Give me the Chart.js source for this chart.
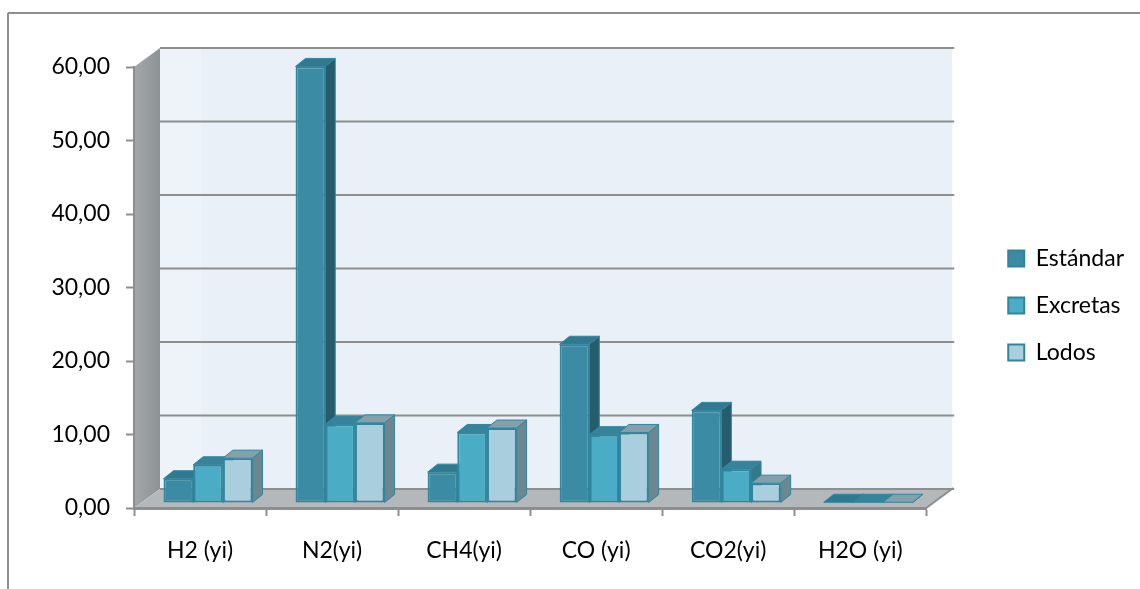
<!DOCTYPE html>
<html>
<head>
<meta charset="utf-8">
<script src="https://cdn.jsdelivr.net/npm/chart.js@4"></script>
<style>
  html, body { margin: 0; padding: 0; background: #fff; overflow: hidden; }
  canvas { display: block; }
</style>
</head>
<body>
<canvas id="chart" width="1140" height="589"></canvas>
<script>
const categories = ['H2 (yi)', 'N2(yi)', 'CH4(yi)', 'CO (yi)', 'CO2(yi)', 'H2O (yi)'];
const estandar = [3.3, 59.4, 4.2, 21.6, 12.6, 0.1];
const excretas = [5.2, 10.7, 9.6, 9.3, 4.6, 0.1];
const lodos = [6.1, 10.9, 10.2, 9.6, 2.7, 0.1];

const FONT = 'Lato, "Open Sans", sans-serif';
const WALL = { dx: 26, dy: -19 };
const BAR_SHIFT = { x: 8, y: -5 };
const BAR_DEPTH = { dx: 10, dy: -8 };

function poly(ctx, pts, fill) {
    ctx.beginPath();
    pts.forEach((p, i) => i ? ctx.lineTo(p[0], p[1]) : ctx.moveTo(p[0], p[1]));
    ctx.closePath();
    ctx.fillStyle = fill;
    ctx.fill();
}

function greyLine(ctx, x1, y1, x2, y2, w) {
    ctx.beginPath();
    ctx.moveTo(x1, y1);
    ctx.lineTo(x2, y2);
    ctx.lineWidth = w;
    ctx.strokeStyle = '#8e8e8e';
    ctx.stroke();
}

// frame, back wall, side wall and floor behind the bars
const walls = {
    id: 'walls',
    beforeDraw(chart) {
        const { ctx, chartArea: a, scales } = chart;
        const { dx, dy } = WALL;
        ctx.save();
        greyLine(ctx, 8, 13, 1140, 13, 2);
        greyLine(ctx, 8, 13, 8, 589, 2);

        poly(ctx, [[a.left + dx, a.top + dy], [a.right + dx, a.top + dy], [a.right + dx, a.bottom + dy], [a.left + dx, a.bottom + dy]], '#e9f0f7');
        poly(ctx, [[a.left + dx, a.top + dy], [a.left + dx + 41, a.top + dy], [a.left + dx + 41, a.bottom + dy], [a.left + dx, a.bottom + dy]], '#edf3f9');

        const side = ctx.createLinearGradient(a.left, 0, a.left + dx, 0);
        side.addColorStop(0, '#a3a7a9');
        side.addColorStop(1, '#8d9294');
        poly(ctx, [[a.left, a.top], [a.left + dx, a.top + dy], [a.left + dx, a.bottom + dy], [a.left, a.bottom]], side);
        poly(ctx, [[a.left, a.bottom], [a.right, a.bottom], [a.right + dx, a.bottom + dy], [a.left + dx, a.bottom + dy]], '#b4b8bb');

        scales.y.ticks.forEach((t, i) => {
            const y = scales.y.getPixelForTick(i) + dy;
            greyLine(ctx, a.left + dx, y, a.right + dx + 2, y, 2);
        });
        greyLine(ctx, a.right, a.bottom, a.right + dx + 1, a.bottom + dy - 1, 2);
        ctx.restore();
    }
};

// top and side faces go down first, so the next bar's front covers them
const bars3d = {
    id: 'bars3d',
    beforeDatasetsDraw(chart) {
        const ctx = chart.ctx;
        const { dx, dy } = BAR_DEPTH;
        ctx.save();
        ctx.translate(BAR_SHIFT.x, BAR_SHIFT.y);
        categories.forEach((c, i) => {
            chart.data.datasets.forEach((ds, d) => {
                const bar = chart.getDatasetMeta(d).data[i];
                const l = bar.x - bar.width / 2, r = bar.x + bar.width / 2;
                const top = bar.y, base = bar.base;
                poly(ctx, [[r, top], [r + dx, top + dy], [r + dx, base + dy], [r, base]], ds.sideColor);
                ctx.strokeStyle = ds.borderColor;
                ctx.lineWidth = 1;
                ctx.stroke();
                poly(ctx, [[l, top], [r, top], [r + dx, top + dy], [l + dx, top + dy]], ds.topColor);
                ctx.stroke();
            });
        });
        ctx.restore();
    },
    beforeDatasetDraw(chart) {
        chart.ctx.save();
        chart.ctx.translate(BAR_SHIFT.x, BAR_SHIFT.y);
    },
    afterDatasetDraw(chart) {
        chart.ctx.restore();
    }
};

new Chart(document.getElementById('chart').getContext('2d'), {
    type: 'bar',
    data: {
        labels: categories,
        datasets: [
            { label: 'Estándar', data: estandar, backgroundColor: '#3b8ba5', borderColor: '#31859c', topColor: '#2f7a90', sideColor: '#255d6d' },
            { label: 'Excretas', data: excretas, backgroundColor: '#4bacc6', borderColor: '#31859c', topColor: '#35849c', sideColor: '#33798d' },
            { label: 'Lodos', data: lodos, backgroundColor: '#a9cfdf', borderColor: '#31859c', topColor: '#84a1ab', sideColor: '#6c8792' }
        ]
    },
    options: {
        responsive: false,
        animation: false,
        layout: { padding: { top: 43, bottom: 21, left: 0, right: 6 } },
        datasets: { bar: { categoryPercentage: 0.674, barPercentage: 1, borderWidth: 2, borderSkipped: false } },
        plugins: {
            title: { display: false },
            tooltip: { enabled: false },
            legend: {
                position: 'right',
                labels: { font: { family: FONT, size: 23 }, color: '#000', boxWidth: 16, boxHeight: 16, padding: 24 }
            }
        },
        scales: {
            x: {
                grid: { drawOnChartArea: false, tickLength: 8, tickColor: '#8e8e8e', tickWidth: 2 },
                border: { color: '#8e8e8e', width: 3 },
                ticks: { font: { family: FONT, size: 23 }, color: '#000', padding: 21, maxRotation: 0 },
                afterFit(axis) { axis.height = 60; }
            },
            y: {
                min: 0,
                max: 60,
                grid: { drawOnChartArea: false, tickLength: 8, tickColor: '#8e8e8e', tickWidth: 2 },
                border: { color: '#8e8e8e', width: 2 },
                ticks: {
                    stepSize: 10,
                    font: { family: FONT, size: 23 },
                    color: '#000',
                    padding: 16,
                    callback: v => v.toFixed(2).replace('.', ',')
                },
                afterFit(axis) { axis.width = 134; }
            },
            spacerTop: {
                type: 'linear',
                axis: 'x',
                position: 'top',
                display: true,
                grid: { display: false },
                border: { display: false },
                ticks: { display: false },
                afterFit(axis) { axis.height = 24; }
            },
            spacerRight: {
                type: 'linear',
                axis: 'y',
                position: 'right',
                display: true,
                grid: { display: false },
                border: { display: false },
                ticks: { display: false },
                afterFit(axis) { axis.width = 58; }
            }
        }
    },
    plugins: [walls, bars3d]
});
</script>
</body>
</html>
